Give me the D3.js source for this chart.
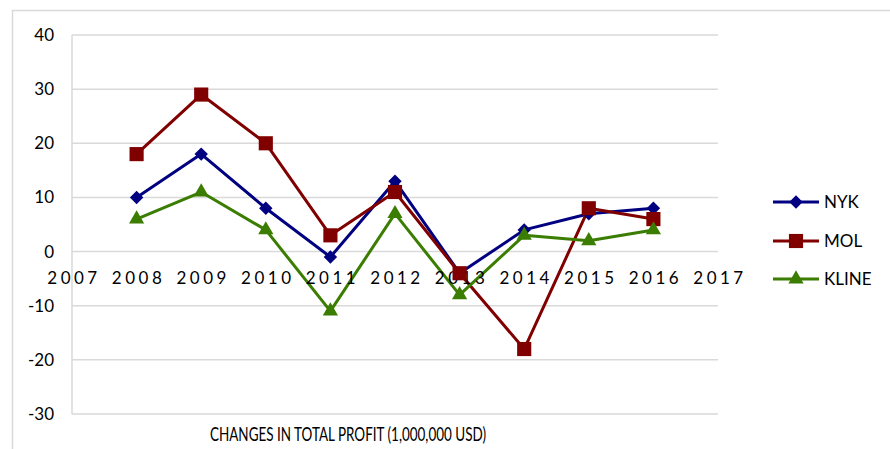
<!DOCTYPE html>
<html>
<head>
<meta charset="utf-8">
<script src="https://cdn.jsdelivr.net/npm/d3@7"></script>
<style>
  body { margin: 0; background: #fff; }
  text { font-family: Lato, "Open Sans", sans-serif; fill: #000; }
</style>
</head>
<body>
<div id="chart"></div>
<script>
var years = [2008, 2009, 2010, 2011, 2012, 2013, 2014, 2015, 2016];
var nyk = [10, 18, 8, -1, 13, -4, 4, 7, 8];
var mol = [18, 29, 20, 3, 11, -4, -18, 8, 6];
var kline = [6, 11, 4, -11, 7, -8, 3, 2, 4];
var xTicks = [2007, 2008, 2009, 2010, 2011, 2012, 2013, 2014, 2015, 2016, 2017];
var yTicks = [-30, -20, -10, 0, 10, 20, 30, 40];
var title = "CHANGES IN TOTAL PROFIT (1,000,000 USD)";

// diamond = square turned 45deg, same width and height like the original
var series = [
  {name: "NYK", values: nyk, color: "#000080", shape: d3.symbolSquare, size: 90, rot: 45},
  {name: "MOL", values: mol, color: "#800000", shape: d3.symbolSquare, size: 200, rot: 0},
  {name: "KLINE", values: kline, color: "#3a7d00", shape: d3.symbolTriangle, size: 100, rot: 0}
];

var W = 890, H = 449;
var plotL = 72, plotR = 718, plotT = 35, plotB = 414;

var svg = d3.select("#chart")
  .append("svg")
  .attr("width", W)
  .attr("height", H);

// outer frame
svg.append("path")
  .attr("d", "M12.5," + H + " V10.5 H" + W)
  .attr("fill", "none")
  .attr("stroke", "#d9d9d9")
  .attr("stroke-width", 1.5);

var x = d3.scaleLinear().domain([2007, 2017]).range([plotL, plotR]);
var y = d3.scaleLinear().domain([-30, 40]).range([plotB, plotT]);

// grid
svg.append("g")
  .selectAll("line")
  .data(yTicks)
  .enter()
  .append("line")
  .attr("x1", plotL)
  .attr("x2", plotR)
  .attr("y1", function(d) { return y(d); })
  .attr("y2", function(d) { return y(d); })
  .attr("stroke", "#d9d9d9")
  .attr("stroke-width", 1.5);

svg.append("line")
  .attr("x1", plotL).attr("x2", plotL)
  .attr("y1", plotT).attr("y2", plotB)
  .attr("stroke", "#d9d9d9")
  .attr("stroke-width", 1.5);

// y labels
svg.append("g")
  .selectAll("text")
  .data(yTicks)
  .enter()
  .append("text")
  .attr("x", 54)
  .attr("y", function(d) { return y(d) + 6; })
  .attr("text-anchor", "end")
  .attr("font-size", "17px")
  .text(function(d) { return d; });

// lines
var line = d3.line()
  .x(function(d, i) { return x(years[i]); })
  .y(function(d) { return y(d); });

series.forEach(function(s) {
  svg.append("path")
    .datum(s.values)
    .attr("d", line)
    .attr("fill", "none")
    .attr("stroke", s.color)
    .attr("stroke-width", 3)
    .attr("stroke-linejoin", "round");
});

// x labels (drawn over the lines like the original)
svg.append("g")
  .selectAll("text")
  .data(xTicks)
  .enter()
  .append("text")
  .attr("x", function(d) { return x(d) + 2; })
  .attr("y", 284)
  .attr("text-anchor", "middle")
  .attr("font-size", "17px")
  .attr("letter-spacing", "3.5px")
  .text(function(d) { return d; });

// markers
series.forEach(function(s) {
  svg.append("g")
    .selectAll("path")
    .data(s.values)
    .enter()
    .append("path")
    .attr("transform", function(d, i) {
      return "translate(" + x(years[i]) + "," + y(d) + ") rotate(" + s.rot + ")";
    })
    .attr("d", d3.symbol().type(s.shape).size(s.size))
    .attr("fill", s.color);
});

// legend
var legend = svg.append("g")
  .attr("transform", "translate(773,0)");
var legY = [202, 241, 279];
series.forEach(function(s, i) {
  legend.append("line")
    .attr("x1", 0).attr("x2", 46)
    .attr("y1", legY[i]).attr("y2", legY[i])
    .attr("stroke", s.color)
    .attr("stroke-width", 3);
  legend.append("path")
    .attr("transform", "translate(23," + legY[i] + ") rotate(" + s.rot + ")")
    .attr("d", d3.symbol().type(s.shape).size(s.size))
    .attr("fill", s.color);
  legend.append("text")
    .attr("x", 51)
    .attr("y", legY[i] + 6)
    .attr("font-size", "17px")
    .text(s.name);
});

svg.append("text")
  .attr("x", 210)
  .attr("y", 441)
  .attr("font-size", "18.5px")
  .attr("textLength", 276)
  .attr("lengthAdjust", "spacingAndGlyphs")
  .text(title);
</script>
</body>
</html>
